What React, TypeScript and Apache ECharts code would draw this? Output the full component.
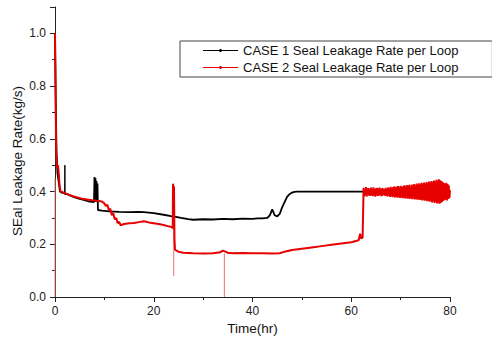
import React, { useEffect, useRef } from "react";
import * as echarts from "echarts";

const seriesNames = [
  "CASE 1 Seal Leakage Rate per Loop",
  "CASE 2 Seal Leakage Rate per Loop",
];
const xTickValues = [0, 20, 40, 60, 80];
const yTickValues = [0, 0.2, 0.4, 0.6, 0.8, 1.0];
const xAxisTitle = "Time(hr)";
const yAxisTitle = "SEal Leakage Rate(kg/s)";

const case1Time = [
  0, 0.15, 0.3, 0.5, 0.8, 1.0, 1.4, 1.9, 2.1, 2.5, 3, 4, 5, 6, 7, 7.9, 8.0,
  8.1, 8.2, 8.3, 8.4, 8.5, 8.6, 8.7, 9.5, 11, 13, 15, 17, 18, 19, 20, 22, 23.5,
  24.5, 25.5, 27, 28, 30, 32, 34, 36, 38, 40, 41, 42, 43, 43.5, 44, 44.5, 45,
  45.5, 46, 46.5, 47, 47.5, 48, 48.5, 49, 50, 55, 60, 62, 70, 80,
];
const case1Rate = [
  1.0, 0.75, 0.55, 0.47, 0.43, 0.4, 0.395, 0.395, 0.39, 0.39, 0.385, 0.378,
  0.372, 0.367, 0.362, 0.36, 0.455, 0.36, 0.45, 0.37, 0.44, 0.36, 0.43, 0.33,
  0.328, 0.325, 0.323, 0.322, 0.323, 0.322, 0.32, 0.318, 0.312, 0.307, 0.304,
  0.3, 0.295, 0.293, 0.295, 0.294, 0.296, 0.295, 0.297, 0.296, 0.298, 0.298,
  0.3, 0.31, 0.332, 0.31, 0.306, 0.315, 0.34, 0.36, 0.38, 0.39, 0.396, 0.399,
  0.4, 0.4, 0.4, 0.4, 0.4, 0.4, 0.4,
];
// thin black glitch in CASE 1
const case1SpikeTime = [1.95, 2.0, 2.05];
const case1SpikeRate = [0.395, 0.5, 0.39];

const case2Time = [
  0, 0.1, 0.2, 0.3, 0.45, 0.6, 0.75, 0.9, 1.1, 1.5, 2.5, 3.5, 4.5, 5.5, 6.5,
  7.5, 8.5, 9.5, 10, 10.3, 10.6, 10.9, 11.2, 11.5, 11.8, 12.1, 12.4, 12.7, 13,
  13.3, 14, 15, 16, 17, 18, 19, 20, 21, 22, 23, 23.7, 23.85, 23.9, 24.0, 24.1,
  24.2, 24.3, 25, 26, 28, 30, 32, 33.5, 34, 34.5, 35, 36, 38, 40, 42, 44, 45.5,
  46.5, 48, 50, 52, 54, 56, 58, 60, 61.5, 61.8, 62, 62.3,
  62.5, 62.625, 62.75, 62.875, 63, 63.125, 63.25, 63.375,
  63.5, 63.625, 63.75, 63.875, 64, 64.125, 64.25, 64.375,
  64.5, 64.625, 64.75, 64.875, 65, 65.125, 65.25, 65.375,
  65.5, 65.625, 65.75, 65.875, 66, 66.125, 66.25, 66.375,
  66.5, 66.625, 66.75, 66.875, 67, 67.125, 67.25, 67.375,
  67.5, 67.625, 67.75, 67.875, 68, 68.125, 68.25, 68.375,
  68.5, 68.625, 68.75, 68.875, 69, 69.125, 69.25, 69.375,
  69.5, 69.625, 69.75, 69.875, 70, 70.125, 70.25, 70.375,
  70.5, 70.625, 70.75, 70.875, 71, 71.125, 71.25, 71.375,
  71.5, 71.625, 71.75, 71.875, 72, 72.125, 72.25, 72.375,
  72.5, 72.625, 72.75, 72.875, 73, 73.125, 73.25, 73.375,
  73.5, 73.625, 73.75, 73.875, 74, 74.125, 74.25, 74.375,
  74.5, 74.625, 74.75, 74.875, 75, 75.125, 75.25, 75.375,
  75.5, 75.625, 75.75, 75.875, 76, 76.125, 76.25, 76.375,
  76.5, 76.625, 76.75, 76.875, 77, 77.125, 77.25, 77.375,
  77.5, 77.625, 77.75, 77.875, 78, 78.125, 78.25, 78.375,
  78.5, 78.625, 78.75, 78.875, 79, 79.125, 79.25, 79.375,
  79.5, 79.625, 79.75, 79.875, 80,
];
const case2Rate = [
  1.0, 0.8, 0.6, 0.52, 0.49, 0.5, 0.47, 0.43, 0.4, 0.398, 0.39, 0.383, 0.378,
  0.373, 0.37, 0.367, 0.365, 0.362, 0.355, 0.345, 0.35, 0.33, 0.335, 0.31,
  0.318, 0.295, 0.3, 0.28, 0.285, 0.272, 0.277, 0.28, 0.281, 0.284, 0.287,
  0.283, 0.28, 0.277, 0.273, 0.268, 0.265, 0.26, 0.43, 0.26, 0.42, 0.22, 0.18,
  0.172, 0.168, 0.166, 0.165, 0.166, 0.17, 0.176, 0.172, 0.168, 0.166, 0.167,
  0.166, 0.166, 0.165, 0.166, 0.172, 0.178, 0.183, 0.188, 0.193, 0.198, 0.203,
  0.208, 0.215, 0.24, 0.222, 0.225,
  0.414, 0.382, 0.409, 0.386, 0.417, 0.381, 0.411, 0.388,
  0.413, 0.384, 0.408, 0.383, 0.415, 0.387, 0.41, 0.382,
  0.416, 0.385, 0.409, 0.381, 0.412, 0.386, 0.414, 0.383,
  0.41, 0.384, 0.415, 0.387, 0.408, 0.382, 0.413, 0.385,
  0.411, 0.386, 0.409, 0.383, 0.414, 0.385, 0.41, 0.381,
  0.416, 0.384, 0.412, 0.38, 0.418, 0.383, 0.413, 0.379,
  0.417, 0.382, 0.42, 0.378, 0.414, 0.381, 0.419, 0.377,
  0.421, 0.38, 0.416, 0.376, 0.422, 0.379, 0.418, 0.375,
  0.42, 0.377, 0.424, 0.374, 0.419, 0.378, 0.425, 0.373,
  0.421, 0.376, 0.426, 0.372, 0.42, 0.375, 0.427, 0.371,
  0.423, 0.374, 0.428, 0.37, 0.424, 0.373, 0.43, 0.369,
  0.426, 0.371, 0.431, 0.368, 0.427, 0.37, 0.433, 0.366,
  0.429, 0.369, 0.434, 0.365, 0.43, 0.367, 0.436, 0.363,
  0.432, 0.366, 0.438, 0.361, 0.434, 0.364, 0.44, 0.359,
  0.436, 0.362, 0.442, 0.357, 0.438, 0.36, 0.445, 0.355,
  0.441, 0.358, 0.447, 0.354, 0.443, 0.357, 0.44, 0.36,
  0.436, 0.364, 0.432, 0.368, 0.429, 0.37, 0.433, 0.366,
  0.428, 0.372, 0.424, 0.375, 0.405,
];

// thin, light red vertical glitches in CASE 2
const spikeTime = [0, 24.05, 34.3];
const spikeTop = [0.45, 0.43, 0.165];
const spikeBottom = [0, 0.08, 0];

const FONT = "'Liberation Sans', Arial, sans-serif";

export default function App() {
  const ref = useRef<HTMLDivElement>(null);
  useEffect(() => {
    if (!ref.current) return;
    const chart = echarts.init(ref.current, undefined, { renderer: "svg" });
    const pairs = (t: number[], v: number[]) => t.map((x, i) => [x, v[i]]);
    const spikeSeries = spikeTime.map((t, i) => ({
      type: "line",
      name: "spike" + i,
      data: [
        [t, spikeBottom[i]],
        [t, spikeTop[i]],
      ],
      showSymbol: false,
      symbol: "none",
      lineStyle: { color: "#ee7070", width: 1 },
      z: 3,
    }));
    chart.setOption({
      animation: false,
      backgroundColor: "#ffffff",
      textStyle: { fontFamily: FONT },
      grid: { left: 55, right: 42, top: 7, bottom: 52, containLabel: false },
      legend: {
        data: seriesNames.map((n) => ({
          name: n,
          icon: "path://M0,6.5L35,6.5L35,7.5L0,7.5Z M16.5,5.5L18.5,5.5L18.5,8.5L16.5,8.5Z",
        })),
        orient: "vertical",
        left: 180,
        top: 41,
        itemWidth: 35,
        itemHeight: 14,
        itemGap: 4,
        padding: [3, 34, 3, 23],
        borderColor: "#444",
        borderWidth: 1,
        backgroundColor: "#ffffff",
        itemStyle: { borderWidth: 0 },
        textStyle: { fontSize: 13, color: "#111", fontFamily: FONT },
      },
      xAxis: {
        type: "value",
        min: xTickValues[0],
        max: xTickValues[xTickValues.length - 1],
        interval: 20,
        name: xAxisTitle,
        nameLocation: "middle",
        nameGap: 24,
        nameTextStyle: { fontSize: 13.5, color: "#111", fontFamily: FONT },
        axisLine: { show: true, lineStyle: { color: "#222", width: 1 } },
        axisTick: { show: true, length: 5, lineStyle: { color: "#222" } },
        minorTick: { show: true, splitNumber: 2, length: 3, lineStyle: { color: "#222" } },
        axisLabel: { fontSize: 12, color: "#222", margin: 8, fontFamily: FONT },
        splitLine: { show: false },
      },
      yAxis: {
        type: "value",
        min: 0,
        max: 1.1,
        interval: 0.2,
        axisLine: { show: true, lineStyle: { color: "#222", width: 1 } },
        axisTick: { show: true, length: 5, lineStyle: { color: "#222" } },
        minorTick: { show: true, splitNumber: 2, length: 3, lineStyle: { color: "#222" } },
        axisLabel: {
          fontSize: 12,
          color: "#222",
          margin: 9,
          fontFamily: FONT,
          showMaxLabel: false,
          formatter: (v: number) =>
            yTickValues.some((t) => Math.abs(t - v) < 1e-6) ? v.toFixed(1) : "",
        },
        splitLine: { show: false },
      },
      graphic: [
        {
          type: "text",
          x: 17,
          y: 161,
          rotation: Math.PI / 2,
          style: {
            text: yAxisTitle,
            fontSize: 13.5,
            fill: "#111",
            fontFamily: FONT,
            textAlign: "center",
            textVerticalAlign: "middle",
          },
        },
      ],
      series: [
        {
          type: "line",
          name: seriesNames[0],
          data: pairs(case1Time, case1Rate),
          showSymbol: false,
          symbol: "circle",
          symbolSize: 3,
          color: "#000000",
          lineStyle: { color: "#000000", width: 1.8 },
          z: 2,
        },
        {
          type: "line",
          name: "case1spike",
          data: pairs(case1SpikeTime, case1SpikeRate),
          showSymbol: false,
          symbol: "none",
          lineStyle: { color: "#000000", width: 1 },
          z: 2,
        },
        ...spikeSeries,
        {
          type: "line",
          name: seriesNames[1],
          data: pairs(case2Time, case2Rate),
          showSymbol: false,
          symbol: "circle",
          symbolSize: 3,
          color: "#e60000",
          lineStyle: { color: "#e60000", width: 2 },
          z: 4,
        },
      ],
    });
    return () => chart.dispose();
  }, []);
  return (
    <div
      ref={ref}
      style={{ position: "fixed", left: 0, top: 0, width: 492, height: 349 }}
    />
  );
}
